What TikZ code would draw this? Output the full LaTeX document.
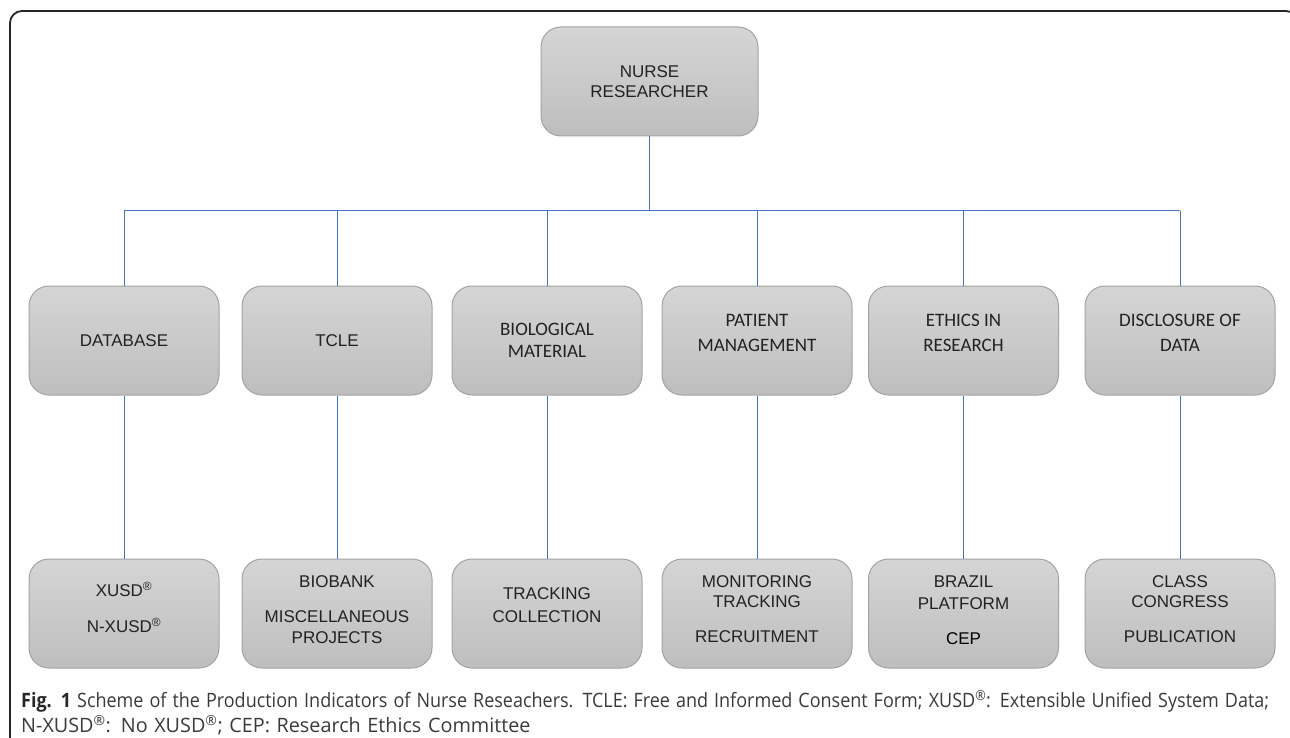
\documentclass[tikz,border=0pt]{standalone}
\usepackage{fontspec}
\usepackage{graphicx}
\setmainfont{Liberation Sans}
\newfontfamily\califont{Carlito}
\newfontfamily\capfont{Open Sans}
\definecolor{linkblue}{HTML}{4472C4}
\definecolor{boxtop}{HTML}{D5D5D5}
\definecolor{boxbot}{HTML}{BEBEBE}
\definecolor{boxedge}{HTML}{A3A3A3}
\definecolor{txt}{HTML}{222222}
\definecolor{captxt}{HTML}{3A3A3A}
\newcommand\dropby[1]{\rule[-#1]{0pt}{#1}}
\newcommand\regm{\textsuperscript{®}}
\begin{document}
\begin{tikzpicture}[x=1pt,y=-1pt,
  box/.style={draw=boxedge, line width=1pt, rounded corners=20pt,
    top color=boxtop, bottom color=boxbot,
    minimum width=190pt, minimum height=109pt, inner sep=0pt,
    align=center, text=txt, font=\fontsize{17pt}{20pt}\selectfont},
  cbox/.style={box, font=\califont\fontsize{19pt}{22pt}\selectfont},
  link/.style={draw=linkblue, line width=1pt},
  frame/.style={draw=black!85, line width=1.8pt, rounded corners=12pt}]
\useasboundingbox (0,0) rectangle (1290,738);
\begin{scope}
  \clip (0,0) rectangle (1290,738);
  \draw[frame] (10,11) rectangle (1298,750);
\end{scope}
% top
\node[box, minimum width=217pt] (nr) at (649.5,81.5) {NURSE\\RESEARCHER};
\coordinate (bus) at (649.5,211);
% middle row
\node[box]  (db) at (124,340.5) {DATABASE};
\node[box]  (tc) at (337,340.5) {TCLE};
\node[cbox] (bm) at (547,340.5) {BIOLOGICAL\\MATERIAL};
\node[cbox] (pm) at (757,340.5) {PATIENT\\[3pt]MANAGEMENT\dropby{15pt}};
\node[cbox] (er) at (963.5,340.5) {ETHICS IN\\[3pt]RESEARCH\dropby{15pt}};
\node[cbox] (dd) at (1180,340.5) {DISCLOSURE OF\\[3pt]DATA\dropby{15pt}};
% bottom row
\node[box] (db2) at (124,613.5) {XUSD\regm\\[16pt]N-XUSD\regm\dropby{13pt}};
\node[box] (tc2) at (337,613.5) {BIOBANK\\[15pt]MISCELLANEOUS\\[1pt]PROJECTS\dropby{7pt}};
\node[box] (bm2) at (547,613.5) {TRACKING\\[3pt]COLLECTION\dropby{16pt}};
\node[box] (pm2) at (757,613.5) {MONITORING\\TRACKING\\[15pt]RECRUITMENT\dropby{8pt}};
\node[box] (er2) at (963.5,613.5) {BRAZIL\\[2pt]PLATFORM\\[15pt]\textcolor{black}{CEP}\dropby{6pt}};
\node[box] (dd2) at (1180,613.5) {CLASS\\CONGRESS\\[15pt]PUBLICATION\dropby{8pt}};
% connectors
\draw[link] (nr.south) -- (bus);
\draw[link] (db.north |- bus) -- (dd.north |- bus);
\foreach \n in {db,tc,bm,pm,er,dd}{
  \draw[link] (\n.north |- bus) -- (\n.north);
  \draw[link] (\n.south) -- (\n2.north);
}
% caption
\node[anchor=north west, inner sep=0pt, text width=1260pt, align=left,
      font=\capfont\fontsize{19.8pt}{21pt}\selectfont, text=captxt] (cap) at (21,690)
  {\strut\resizebox{1248pt}{\height}{\textcolor{black!85}{\textbf{Fig. 1}} Scheme of the Production Indicators of Nurse Reseachers. TCLE: Free and Informed Consent Form; XUSD\regm: Extensible Unified System Data;}\\
   N-XUSD\regm: No XUSD\regm; CEP: Research Ethics Committee};
\end{tikzpicture}
\end{document}
